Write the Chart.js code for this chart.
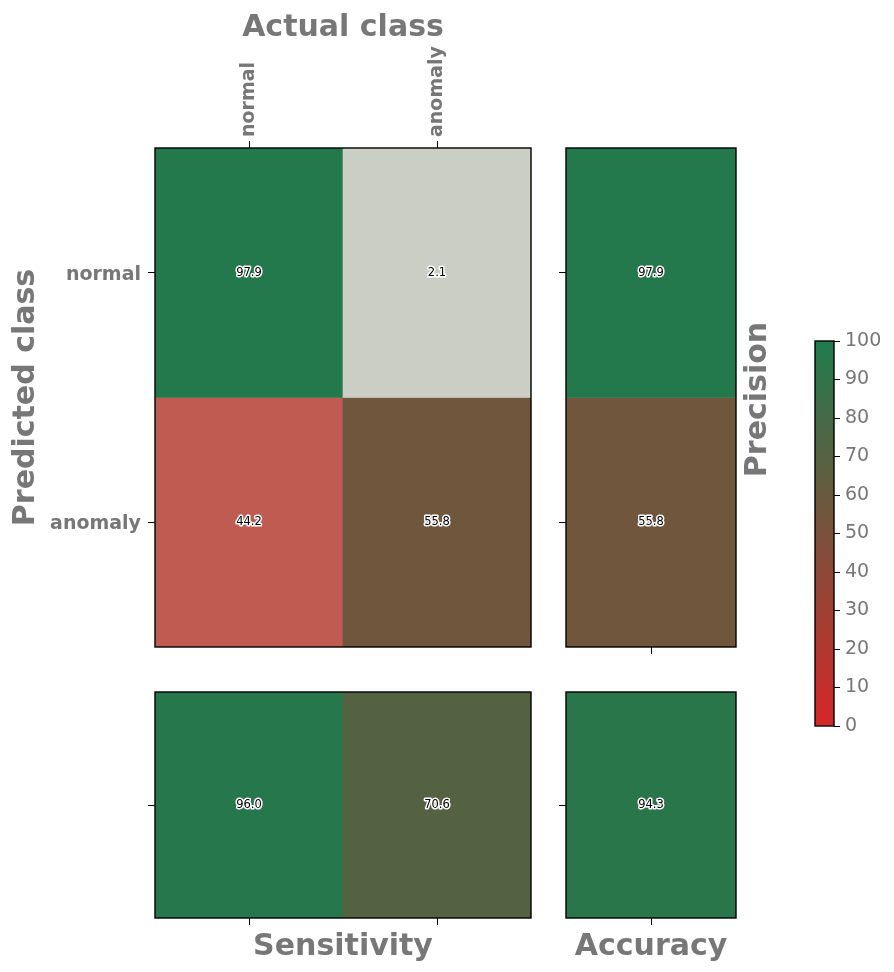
<!DOCTYPE html>
<html>
<head>
<meta charset="utf-8">
<script src="https://cdn.jsdelivr.net/npm/chart.js@4/dist/chart.umd.min.js"></script>
<style>
  body { margin: 0; background: #fff; }
  #wrap { position: relative; width: 894px; height: 972px; }
  canvas { position: absolute; left: 0; top: 0; }
</style>
</head>
<body>
<div id="wrap">
  <canvas id="matrix" width="894" height="972"></canvas>
  <canvas id="precision" width="894" height="972"></canvas>
  <canvas id="sensitivity" width="894" height="972"></canvas>
  <canvas id="accuracy" width="894" height="972"></canvas>
  <canvas id="colorbar" width="894" height="972"></canvas>
</div>
<script>
// values
const classes = ['normal', 'anomaly'];
const normalRow = [97.9, 2.1];
const anomalyRow = [44.2, 55.8];
const precision = [97.9, 55.8];
const sensitivity = [96.0, 70.6];
const accuracy = [94.3];
const colorbarTicks = [0, 10, 20, 30, 40, 50, 60, 70, 80, 90, 100];

const GREY_TXT = '#777777';
const RED = [214, 39, 40];
const GREEN = [31, 123, 77];
const ERR_LOW = [204, 212, 203];
const ERR_MID = [190, 75, 65];

Chart.defaults.font.family = "'DejaVu Sans', sans-serif";
Chart.defaults.color = GREY_TXT;

function mix(a, b, t) {
  return a.map((v, i) => Math.round(v + (b[i] - v) * t));
}
function goodColor(v) {
  return 'rgb(' + mix(RED, GREEN, v / 100).join(',') + ')';
}
function errColor(v) {
  const t = v / 100;
  const c = t < 0.5 ? mix(ERR_LOW, ERR_MID, t / 0.5) : mix(ERR_MID, RED, (t - 0.5) / 0.5);
  return 'rgb(' + c.join(',') + ')';
}

const framePlugin = {
  id: 'frame',
  afterDraw(chart) {
    const a = chart.chartArea, ctx = chart.ctx;
    ctx.save();
    ctx.strokeStyle = '#000';
    ctx.lineWidth = 1.4;
    ctx.strokeRect(a.left, a.top, a.right - a.left, a.bottom - a.top);
    ctx.restore();
  }
};

const valuePlugin = {
  id: 'values',
  afterDatasetsDraw(chart) {
    const ctx = chart.ctx;
    ctx.save();
    ctx.font = "11.5px 'DejaVu Sans'";
    ctx.textAlign = 'center';
    ctx.textBaseline = 'middle';
    ctx.lineJoin = 'round';
    chart.data.datasets.forEach((ds, di) => {
      if (!ds.values) return;
      chart.getDatasetMeta(di).data.forEach((bar, i) => {
        const y = (bar.y + bar.base) / 2;
        const txt = ds.values[i].toFixed(1);
        ctx.strokeStyle = '#fff';
        ctx.lineWidth = 3;
        ctx.strokeText(txt, bar.x, y);
        ctx.fillStyle = '#000';
        ctx.fillText(txt, bar.x, y);
      });
    });
    ctx.restore();
  }
};

const precisionTitle = {
  id: 'ptitle',
  afterDraw(chart) {
    const a = chart.chartArea, ctx = chart.ctx;
    ctx.save();
    ctx.translate(758, (a.top + a.bottom) / 2 + 2);
    ctx.rotate(-Math.PI / 2);
    ctx.font = "bold 30px 'DejaVu Sans'";
    ctx.fillStyle = GREY_TXT;
    ctx.textAlign = 'center';
    ctx.textBaseline = 'middle';
    ctx.fillText('Precision', 0, 0);
    ctx.restore();
  }
};

function panel(id, cfg) {
  const [l, t, r, b] = cfg.area;
  const xTop = cfg.xPos === 'top';
  const rowCenters = cfg.rows.map((_, i) => i + 0.5);
  const datasets = cfg.rows.map((vals, ri) => ({
    data: vals.map(() => [ri, ri + 1]),
    values: vals,
    backgroundColor: vals.map((v, ci) => cfg.colorOf(v, ri, ci)),
    borderWidth: 0,
    barPercentage: 1,
    categoryPercentage: 1,
    grouped: false
  }));
  const tickGrid = { offset: false, drawOnChartArea: false, color: '#000', tickLength: 7, tickWidth: 1 };
  const titleFont = { size: 30, weight: 'bold' };
  const labelFont = { size: 19, weight: 'bold' };

  return new Chart(document.getElementById(id), {
    type: 'bar',
    data: { labels: cfg.cols, datasets },
    options: {
      responsive: false,
      animation: false,
      layout: {
        padding: {
          left: l - cfg.ySize,
          right: 894 - r,
          top: xTop ? t - cfg.xSize : t,
          bottom: xTop ? 972 - b : 972 - b - cfg.xSize
        }
      },
      plugins: { legend: { display: false }, tooltip: { enabled: false } },
      scales: {
        x: {
          position: cfg.xPos,
          grid: tickGrid,
          border: { display: false },
          ticks: {
            display: !!cfg.xLabels,
            minRotation: 90, maxRotation: 90,
            padding: 4,
            labelOffset: 23,
            font: labelFont
          },
          title: {
            display: !!cfg.xTitle,
            text: cfg.xTitle || '',
            font: titleFont,
            padding: { top: 10, bottom: 7 }
          },
          afterFit: s => { s.height = cfg.xSize; }
        },
        y: {
          min: 0,
          max: cfg.rows.length,
          reverse: true,
          afterBuildTicks: s => { s.ticks = rowCenters.map(v => ({ value: v })); },
          grid: tickGrid,
          border: { display: false },
          ticks: {
            display: !!cfg.yLabels,
            autoSkip: false,
            padding: 7,
            labelOffset: 2,
            font: labelFont,
            callback: (v, i) => (cfg.yLabels ? cfg.yLabels[i] : '')
          },
          title: {
            display: !!cfg.yTitle,
            text: cfg.yTitle || '',
            font: titleFont,
            padding: { top: 8, bottom: 7 }
          },
          afterFit: s => { s.width = cfg.ySize; }
        }
      }
    },
    plugins: [framePlugin, valuePlugin].concat(cfg.extra || [])
  });
}

panel('matrix', {
  area: [155, 148, 531, 647],
  cols: classes,
  rows: [normalRow, anomalyRow],
  colorOf: (v, ri, ci) => (ri === ci ? goodColor(v) : errColor(v)),
  xPos: 'top', xSize: 148, ySize: 155,
  xLabels: true, yLabels: classes,
  xTitle: 'Actual class', yTitle: 'Predicted class'
});

panel('precision', {
  area: [566, 148, 736, 647],
  cols: [''],
  rows: precision.map(v => [v]),
  colorOf: v => goodColor(v),
  xPos: 'bottom', xSize: 30, ySize: 30,
  extra: [precisionTitle]
});

panel('sensitivity', {
  area: [155, 692, 531, 918],
  cols: classes,
  rows: [sensitivity],
  colorOf: v => goodColor(v),
  xPos: 'bottom', xSize: 54, ySize: 30,
  xTitle: 'Sensitivity'
});

panel('accuracy', {
  area: [566, 692, 736, 918],
  cols: [''],
  rows: [accuracy],
  colorOf: v => goodColor(v),
  xPos: 'bottom', xSize: 54, ySize: 30,
  xTitle: 'Accuracy'
});

new Chart(document.getElementById('colorbar'), {
  type: 'bar',
  data: {
    labels: [''],
    datasets: [{
      data: [[0, 100]],
      backgroundColor: c => {
        const a = c.chart.chartArea;
        if (!a) return null;
        const g = c.chart.ctx.createLinearGradient(0, a.bottom, 0, a.top);
        colorbarTicks.forEach(v => g.addColorStop(v / 100, goodColor(v)));
        return g;
      },
      borderWidth: 0,
      barPercentage: 1,
      categoryPercentage: 1
    }]
  },
  options: {
    responsive: false,
    animation: false,
    layout: { padding: { left: 815, top: 341, right: 0, bottom: 972 - 726 } },
    plugins: { legend: { display: false }, tooltip: { enabled: false } },
    scales: {
      x: { display: false },
      y: {
        position: 'right',
        min: 0, max: 100,
        afterBuildTicks: s => { s.ticks = colorbarTicks.map(v => ({ value: v })); },
        grid: { drawOnChartArea: false, color: '#000', tickLength: 6 },
        border: { display: false },
        ticks: { padding: 5, font: { size: 19 }, color: GREY_TXT },
        afterFit: s => { s.width = 894 - 834; }
      }
    }
  },
  plugins: [framePlugin]
});
</script>
</body>
</html>
